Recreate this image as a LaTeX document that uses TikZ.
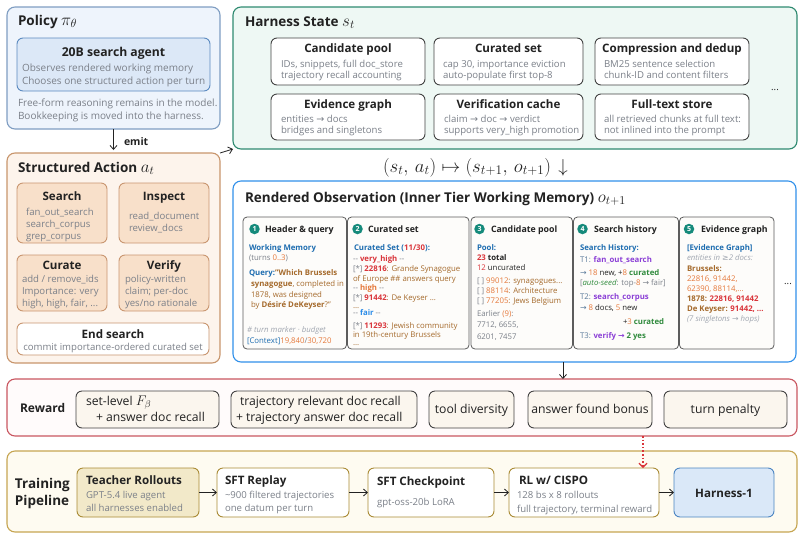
\RequirePackage{fix-cm}
\documentclass[tikz,border=0pt]{standalone}
\usepackage[no-math]{fontspec}
\setmainfont{Open Sans}
\newfontfamily\symf{DejaVu Sans}
\usetikzlibrary{arrows.meta}
\definecolor{polfill}{HTML}{EEF4FC}\definecolor{polline}{HTML}{7F9DC2}
\definecolor{agfill}{HTML}{DCE8F7}\definecolor{agline}{HTML}{5B8AC0}
\definecolor{actfill}{HTML}{FDF4EC}\definecolor{actline}{HTML}{C8956C}
\definecolor{subfill}{HTML}{F8E0CA}\definecolor{subline}{HTML}{C99670}
\definecolor{harfill}{HTML}{EEF8F4}\definecolor{harline}{HTML}{2E8A70}
\definecolor{obsline}{HTML}{3090EA}
\definecolor{panfill}{HTML}{FDFCFA}\definecolor{panline}{HTML}{5C5C5C}
\definecolor{tealc}{HTML}{158A7B}
\definecolor{rewline}{HTML}{C95660}\definecolor{rewfill}{HTML}{FFFBFB}
\definecolor{rbfill}{HTML}{FBF6EE}
\definecolor{trfill}{HTML}{FEFBF1}\definecolor{trline}{HTML}{C6A552}
\definecolor{teafill}{HTML}{F2E9C9}\definecolor{tealine}{HTML}{A98B35}
\definecolor{hofill}{HTML}{DAE8F8}\definecolor{holine}{HTML}{4C85C2}
\definecolor{tdark}{HTML}{222222}\definecolor{tgray}{HTML}{7B8089}
\definecolor{cblue}{HTML}{1E6DB0}\definecolor{cred}{HTML}{D9343A}
\definecolor{corange}{HTML}{E5783A}\definecolor{cbrown}{HTML}{A56A2C}
\definecolor{cpurp}{HTML}{8B3FD6}\definecolor{cgreen}{HTML}{2F8A3C}
\definecolor{clblue}{HTML}{2B8CE8}\definecolor{cslate}{HTML}{5A7A9A}
\definecolor{clgray}{HTML}{A0A6B0}
\newcommand\tcBlue[1]{\textcolor{cblue}{#1}}
\newcommand\tcRed[1]{\textcolor{cred}{#1}}
\newcommand\tcOr[1]{\textcolor{corange}{#1}}
\newcommand\tcBr[1]{\textcolor{cbrown}{#1}}
\newcommand\tcPu[1]{\textcolor{cpurp}{#1}}
\newcommand\tcGr[1]{\textcolor{cgreen}{#1}}
\newcommand\tcLB[1]{\textcolor{clblue}{#1}}
\newcommand\tcSl[1]{\textcolor{cslate}{#1}}
\newcommand\tcGy[1]{\textcolor{tgray}{#1}}
\newcommand\tcLG[1]{\textcolor{clgray}{#1}}
\newcommand\tcDk[1]{\textcolor{tdark}{#1}}
\newcommand\rarr{{\symf →}}
\newcommand\fSec{\fontsize{13.5}{16}\selectfont\bfseries}
\newcommand\fTit{\fontsize{11.6}{14}\selectfont\bfseries}
\newcommand\fBody{\fontsize{9.6}{11}\selectfont}
\newcommand\fPol{\fontsize{10}{12}\selectfont}
\newcommand\fPan{\fontsize{7.8}{9.5}\selectfont}
\newcommand\fPH{\fontsize{8.8}{10}\selectfont\bfseries}
\newcommand\fRew{\fontsize{12.2}{14}\selectfont}
\newcommand\bx[6]{\node[#2,anchor=north west,minimum width={#5-#3},minimum height={#6-#4}] (#1) at (#3,#4) {};}
\begin{document}
\begin{tikzpicture}[x=1pt,y=-1pt,
  every node/.style={inner sep=0pt,outer sep=0pt},
  tx/.style={anchor=base west,text=tdark},
  txc/.style={anchor=base,text=tdark},
  gl/.style={anchor=base west,text=tgray,font=\fBody},
  pl/.style={anchor=base west,font=\fPan,text=tdark},
  obox/.style={draw,rounded corners=8pt,line width=1.1pt},
  ibox/.style={draw,rounded corners=6pt,line width=0.9pt},
  subbox/.style={ibox,fill=subfill,draw=subline},
  wbox/.style={ibox,fill=white,draw=tdark!85},
  panel/.style={draw=panline,fill=panfill,rounded corners=4pt,line width=0.8pt},
  numc/.style={circle,fill=tealc,text=white,minimum size=10.5pt,font=\fontsize{7}{7}\selectfont\bfseries},
  rbox/.style={ibox,fill=rbfill,draw=tdark!85},
  tbox/.style={ibox,fill=white,draw=tealine},
  arr/.style={-{Straight Barb[length=4pt,width=7pt]},line width=0.8pt,draw=tdark}
]
\useasboundingbox (0,0) rectangle (804,539);

% ---------------- Policy
\bx{pol}{obox,fill=polfill,draw=polline}{7}{7}{220}{129}
\node[tx,font=\fSec] (polt) at (18,25) {Policy \fontsize{17}{18}\selectfont$\pi_\theta$};
\bx{agent}{ibox,fill=agfill,draw=agline}{17}{38}{210}{91}
\node[txc,font=\fontsize{12.2}{14}\selectfont\bfseries] (agentt) at (113.5,56.5) {20B search agent};
\node[gl,font=\fPol] (ag1) at (22,71.5) {Observes rendered working memory};
\node[gl,font=\fPol] (ag2) at (22,84) {Chooses one structured action per turn};
\node[gl,font=\fPol] (pol1) at (18,106.5) {Free-form reasoning remains in the model.};
\node[gl,font=\fPol] (pol2) at (18,119.5) {Bookkeeping is moved into the harness.};

% ---------------- Structured action
\bx{act}{obox,fill=actfill,draw=actline}{7}{153}{220}{363}
\draw[arr] (pol.south) -- ([yshift=3pt]act.north);
\node[tx,font=\fontsize{10.5}{12}\selectfont\bfseries] (emit) at (124,145) {emit};
\node[tx,font=\fSec] (actt) at (18,172) {Structured Action \fontsize{17}{18}\selectfont$a_t$};
\bx{srch}{subbox}{17}{183}{107}{243}
\node[txc,font=\fTit] (srcht) at (62,200) {Search};
\node[gl] (s1) at (26,215) {fan\_out\_search};
\node[gl] (s2) at (26,227) {search\_corpus};
\node[gl] (s3) at (26,239) {grep\_corpus};
\bx{insp}{subbox}{119}{183}{209}{243}
\node[txc,font=\fTit] (inspt) at (164,200) {Inspect};
\node[gl] (i1) at (129,219) {read\_document};
\node[gl] (i2) at (129,231) {review\_docs};
\bx{cura}{subbox}{17}{255}{107}{311}
\node[txc,font=\fTit] (curat) at (62,269) {Curate};
\node[gl] (c1) at (22,282.5) {add / remove\_ids};
\node[gl] (c2) at (22,294.5) {Importance: very};
\node[gl] (c3) at (22,306.5) {high, high, fair, ...};
\bx{veri}{subbox}{119}{255}{209}{311}
\node[txc,font=\fTit] (verit) at (164,269) {Verify};
\node[gl] (v1) at (125,282.5) {policy-written};
\node[gl] (v2) at (125,294.5) {claim; per-doc};
\node[gl] (v3) at (125,306.5) {yes/no rationale};
\bx{ends}{ibox,fill=white,draw=subline}{17}{323}{209}{355}
\node[txc,font=\fTit] (endst) at (113,338) {End search};
\node[txc,font=\fBody,text=tgray] (ends1) at (113,350.5) {commit importance-ordered curated set};

% ---------------- Harness state
\bx{harn}{obox,fill=harfill,draw=harline}{233}{7}{797}{149}
\draw[arr] (act.north east) -- (harn.south west);
\node[tx,font=\fSec] (hart) at (245,26) {Harness State \fontsize{17}{18}\selectfont$s_t$};
\bx{hcand}{wbox}{271}{38}{425}{85}
\node[txc,font=\fTit] (hcandt) at (348,52) {Candidate pool};
\node[gl] (hc1) at (281,67.5) {IDs, snippets, full doc\_store};
\node[gl] (hc2) at (281,78.5) {trajectory recall accounting};
\bx{hcur}{wbox}{434}{38}{583}{85}
\node[txc,font=\fTit] (hcurt) at (508.5,52) {Curated set};
\node[gl] (hu1) at (443,67.5) {cap 30, importance eviction};
\node[gl] (hu2) at (443,78.5) {auto-populate first top-8};
\bx{hcomp}{wbox}{595}{38}{749}{85}
\node[txc,font=\fTit] (hcompt) at (672,52) {Compression and dedup};
\node[gl] (hm1) at (604,67.5) {BM25 sentence selection};
\node[gl] (hm2) at (604,78.5) {chunk-ID and content filters};
\bx{hevid}{wbox}{271}{94}{425}{140}
\node[txc,font=\fTit] (hevidt) at (348,108) {Evidence graph};
\node[gl] (he1) at (281,122.5) {entities \rarr\ docs};
\node[gl] (he2) at (281,133.5) {bridges and singletons};
\bx{hver}{wbox}{434}{94}{583}{140}
\node[txc,font=\fTit] (hvert) at (508.5,108) {Verification cache};
\node[gl] (hv1) at (444,122.5) {claim \rarr\ doc \rarr\ verdict};
\node[gl] (hv2) at (444,133.5) {supports very\_high promotion};
\bx{hfull}{wbox}{595}{94}{749}{140}
\node[txc,font=\fTit] (hfullt) at (672,108) {Full-text store};
\node[gl] (hf1) at (604,122.5) {all retrieved chunks at full text:};
\node[gl] (hf2) at (604,133.5) {not inlined into the prompt};
\node[txc,font=\fBody] (hdots) at (775,90) {...};

% ---------------- transition
\node[tx,font=\fontsize{18.8}{21}\selectfont] (trans) at (383,172) {$(s_t,\, a_t) \mapsto (s_{t+1},\, o_{t+1})$};
\node[txc,font=\fontsize{18.8}{21}\selectfont] (transd) at (563,172) {$\downarrow$};

% ---------------- Rendered observation
\bx{obs}{obox,fill=white,draw=obsline}{233}{181}{796}{362}
\node[tx,font=\fSec] (obst) at (245,202) {Rendered Observation (Inner Tier Working Memory) \fontsize{17}{18}\selectfont$o_{t+1}$};
\bx{p1}{panel}{243}{217}{346.5}{349}
\bx{p2}{panel}{347.5}{217}{469}{349}
\bx{p3}{panel}{471}{217}{572.5}{349}
\bx{p4}{panel}{573.5}{217}{678.5}{349}
\bx{p5}{panel}{679.5}{217}{774}{349}
\node[txc,font=\fBody] (odots) at (788,284) {...};
\node[numc] (n1) at (254.5,229) {1};
\node[tx,font=\fPH] (h1) at (265,232.2) {Header \& query};
\node[numc] (n2) at (357.5,229) {2};
\node[tx,font=\fPH] (h2) at (368,232.2) {Curated set};
\node[numc] (n3) at (479.5,229) {3};
\node[tx,font=\fPH] (h3) at (491,232.2) {Candidate pool};
\node[numc] (n4) at (582.5,229) {4};
\node[tx,font=\fPH] (h4) at (594,232.2) {Search history};
\node[numc] (n5) at (689,229) {5};
\node[tx,font=\fPH] (h5) at (701,232.2) {Evidence graph};
% panel 1
\node[pl] (a1) at (249,250.9) {\textbf{\tcBlue{Working Memory}}};
\node[pl] (a2) at (249,260.9) {\tcGy{(turns \tcOr{0..3})}};
\node[pl] (a3) at (249,275.9) {\textbf{\tcBlue{Query:}\tcBr{"Which Brussels}}};
\node[pl] (a4) at (251,286.9) {\tcBr{\textbf{synagogue}, completed in}};
\node[pl] (a5) at (251,297.9) {\tcBr{1878, was designed}};
\node[pl] (a6) at (251,307.9) {\tcBr{by \textbf{Désiré DeKeyser}?"}};
\node[pl] (a7) at (247,332.9) {\tcLG{\itshape \# turn marker · budget}};
\node[pl] (a8) at (247,343.9) {\tcBlue{[Context]}\tcOr{19,840}\tcGy{/}\tcOr{30,720}};
% panel 2
\node[pl] (b1) at (354,250.9) {\textbf{\tcBlue{Curated Set (}\tcRed{11/30}\tcBlue{):}}};
\node[pl] (b2) at (353,261.9) {\tcGy{-{}-} \textbf{\tcRed{very\_high}} \tcGy{-{}-}};
\node[pl] (b3) at (353,271.9) {\tcGy{[*]} \textbf{\tcRed{22816}}\tcBr{: Grande Synagogue}};
\node[pl] (b4) at (353,281.9) {\tcBr{of Europe \#\# answers query}};
\node[pl] (b5) at (353,290.9) {\tcGy{-{}-} \textbf{\tcOr{high}} \tcGy{-{}-}};
\node[pl] (b6) at (353,300.9) {\tcGy{[*]} \textbf{\tcRed{91442}}\tcBr{: De Keyser ...}};
\node[pl] (b7) at (353,308.9) {\tcBr{...}};
\node[pl] (b8) at (353,315.9) {\tcGy{-{}-} \textbf{\tcLB{fair}} \tcGy{-{}-}};
\node[pl] (b9) at (353,328.9) {\tcGy{[*]} \textbf{\tcRed{11293}}\tcBr{: Jewish community}};
\node[pl] (b10) at (353,337.9) {\tcBr{in 19th-century Brussels}};
\node[pl] (b11) at (353,345.5) {\tcBr{...}};
% panel 3
\node[pl] (c1p) at (477,250.9) {\textbf{\tcBlue{Pool:}}};
\node[pl] (c2p) at (477,260.9) {\textbf{\tcRed{23} total}};
\node[pl] (c3p) at (477,270.9) {\tcRed{12} uncurated};
\node[pl] (c4p) at (477,283.9) {\tcGy{[ ]} \tcOr{99012}\tcBr{: synagogues...}};
\node[pl] (c5p) at (477,293.9) {\tcGy{[ ]} \tcOr{88114}\tcBr{: Architecture}};
\node[pl] (c6p) at (477,303.9) {\tcGy{[ ]} \tcOr{77205}\tcBr{: Jews Belgium}};
\node[pl] (c7p) at (477,316.9) {\tcGy{Earlier} \tcOr{(9)}\tcGy{:}};
\node[pl] (c8p) at (477,327.9) {\tcGy{7712, 6655,}};
\node[pl] (c9p) at (477,339.9) {\tcGy{6201, 7457}};
% panel 4
\node[pl] (d1) at (580,250.9) {\textbf{\tcBlue{Search History:}}};
\node[pl] (d2) at (580,262.9) {\tcSl{T1:} \textbf{\tcPu{fan\_out\_search}}};
\node[pl] (d3) at (580,275.9) {\tcSl{\rarr} \tcOr{18} \tcDk{new, +}\tcOr{8} \textbf{\tcGr{curated}}};
\node[pl] (d4) at (580,285.9) {\tcGy{[\textit{\tcGr{auto-seed}}: top-\tcOr{8} \rarr\ fair]}};
\node[pl] (d5) at (580,299.9) {\tcSl{T2:} \textbf{\tcPu{search\_corpus}}};
\node[pl] (d6) at (580,310.9) {\tcSl{\rarr} \tcOr{8} \tcDk{docs,} \tcOr{5} \tcDk{new}};
\node[pl] (d7) at (623,324.9) {\tcDk{+}\tcOr{3} \textbf{\tcGr{curated}}};
\node[pl] (d8) at (580,338.9) {\tcSl{T3:} \textbf{\tcPu{verify \rarr}} \textbf{\tcGr{2 yes}}};
% panel 5
\node[pl] (e1) at (687,250.9) {\textbf{\tcBlue{[Evidence Graph]}}};
\node[pl] (e2) at (687,260.9) {\tcLG{\itshape entities in {\symf\upshape ≥}2 docs:}};
\node[pl] (e3) at (687,271.9) {\textbf{\tcBr{Brussels:}}};
\node[pl] (e4) at (687,281.9) {\tcOr{22816, 91442,}};
\node[pl] (e5) at (687,291.9) {\tcOr{62390, 88114,...}};
\node[pl] (e6) at (687,301.9) {\textbf{\tcBr{1878:} \tcRed{22816, 91442}}};
\node[pl] (e7) at (687,311.9) {\textbf{\tcBr{De Keyser:} \tcRed{91442, ...}}};
\node[pl] (e8) at (687,321.9) {\tcLG{\itshape (7 singletons {\symf\upshape →} hops)}};

% ---------------- Reward
\bx{rew}{obox,fill=rewfill,draw=rewline}{7}{379}{797}{436}
\coordinate (xr) at (563,0);
\draw[arr] (obs.south -| xr) -- (rew.north -| xr);
\node[tx,font=\fontsize{12}{14}\selectfont\bfseries] (rewt) at (20,412) {Reward};
\bx{r1}{rbox}{76}{391}{219}{428}
\node[tx,font=\fRew] (r1a) at (86,405) {set-level \fontsize{14}{16}\selectfont$F_\beta$};
\node[tx,font=\fRew] (r1b) at (96,421) {+ answer doc recall};
\bx{r2}{rbox}{231}{391}{417}{428}
\node[tx,font=\fRew] (r2a) at (240,405) {trajectory relevant doc recall};
\node[tx,font=\fRew] (r2b) at (236,421) {+ trajectory answer doc recall};
\bx{r3}{rbox}{429}{391}{514}{428}
\node[txc,font=\fRew] (r3a) at (471.5,413.5) {tool diversity};
\bx{r4}{rbox}{528}{391}{652}{428}
\node[txc,font=\fRew] (r4a) at (590,413.5) {answer found bonus};
\bx{r5}{rbox}{664}{391}{787}{428}
\node[txc,font=\fRew] (r5a) at (725.5,413.5) {turn penalty};

% ---------------- Training pipeline
\bx{trn}{obox,fill=trfill,draw=trline}{7}{451}{797}{532}
\node[tx,font=\fSec] (trn1) at (15,488.5) {Training};
\node[tx,font=\fSec] (trn2) at (15,505) {Pipeline};
\bx{t1}{ibox,fill=teafill,draw=tealine}{77}{468}{199}{517}
\node[tx,font=\fTit] (t1t) at (86,484) {Teacher Rollouts};
\node[gl] (t1a) at (86,498.5) {GPT-5.4 live agent};
\node[gl] (t1b) at (86,511.5) {all harnesses enabled};
\bx{t2}{tbox}{217}{468}{349}{517}
\node[tx,font=\fTit] (t2t) at (225,484) {SFT Replay};
\node[gl] (t2a) at (225,498.5) {\textasciitilde 900 filtered trajectories};
\node[gl] (t2b) at (225,511.5) {one datum per turn};
\bx{t3}{tbox}{368}{468}{494}{517}
\node[tx,font=\fTit] (t3t) at (377,485) {SFT Checkpoint};
\node[gl] (t3a) at (377,505.5) {gpt-oss-20b LoRA};
\bx{t4}{tbox}{509}{468}{659}{517}
\node[tx,font=\fTit] (t4t) at (519,484) {RL w/ CISPO};
\node[gl] (t4a) at (517,498.5) {128 bs x 8 rollouts};
\node[gl] (t4b) at (517,512) {full trajectory, terminal reward};
\bx{t5}{ibox,fill=hofill,draw=holine}{674}{468}{774}{517}
\node[txc,font=\fTit] (t5t) at (724,497) {Harness-1};
\draw[arr] (t1.east) -- (t2.west);
\draw[arr] (t2.east) -- (t3.west);
\draw[arr] (t3.east) -- (t4.west);
\draw[arr] (t4.east) -- (t5.west);
\coordinate (xd) at (643,0);
\draw[draw=cred,line width=1.6pt,dotted,-{Straight Barb[length=4pt,width=8pt,line width=1.2pt]}] (rew.south -| xd) -- (t4.north -| xd);
\end{tikzpicture}
\end{document}
